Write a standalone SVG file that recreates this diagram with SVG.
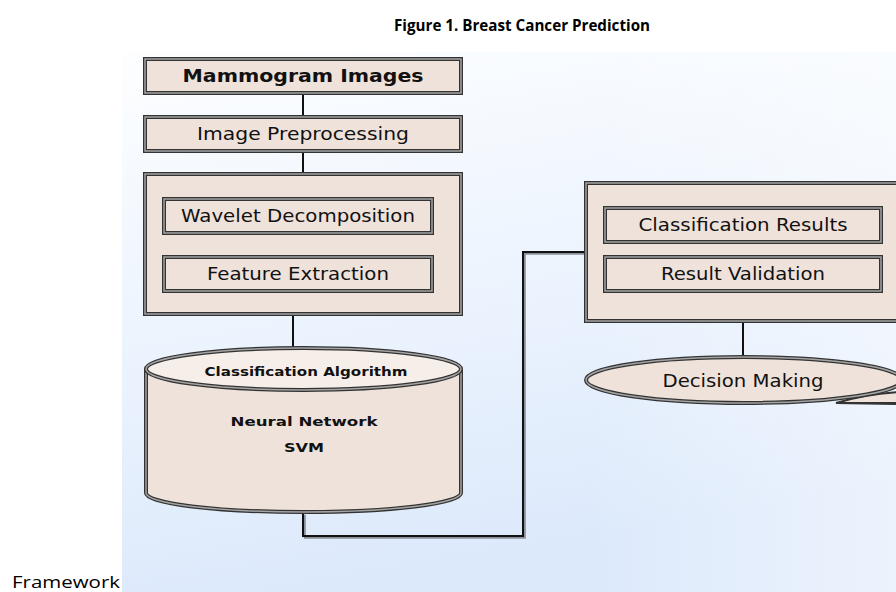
<svg xmlns="http://www.w3.org/2000/svg" width="896" height="592" viewBox="0 0 896 592">
  <defs>
    <linearGradient id="panelFill" x1="0" y1="0" x2="0.25" y2="1">
      <stop offset="0" stop-color="#fdfeff"/>
      <stop offset="0.45" stop-color="#eef5fe"/>
      <stop offset="1" stop-color="#dce9fb"/>
    </linearGradient>
    <linearGradient id="panelSheen" x1="0" y1="0" x2="1" y2="0">
      <stop offset="0" stop-color="#ffffff" stop-opacity="0"/>
      <stop offset="0.6" stop-color="#ffffff" stop-opacity="0"/>
      <stop offset="1" stop-color="#ffffff" stop-opacity="0.45"/>
    </linearGradient>
    <clipPath id="page">
      <rect x="0" y="0" width="896" height="592"/>
    </clipPath>
  </defs>
  <style>
    .title { font-family: "Open Sans", "Liberation Sans", Arial, sans-serif; font-weight: bold; font-size: 16px; fill: #000; }
    .caption { font-family: "Open Sans", "Liberation Sans", Arial, sans-serif; font-size: 17px; fill: #000; }
    .lbl { font-family: "DejaVu Sans", Verdana, sans-serif; font-size: 17px; fill: #111; }
    .lblb { font-family: "DejaVu Sans", Verdana, sans-serif; font-size: 17px; font-weight: bold; fill: #111; }
    .small { font-family: "DejaVu Sans", Verdana, sans-serif; font-size: 13px; font-weight: bold; fill: #111; }
    .box { fill: #efe2da; stroke: #333; stroke-width: 4; }
    .boxin { fill: none; stroke: #a4a4a4; stroke-width: 1.5; }
    .wire { fill: none; stroke: #111; stroke-width: 2; }
    .wireshade { fill: none; stroke: #8a8f99; stroke-width: 2; }
  </style>

  <!-- page background and shaded drawing panel -->
  <rect x="0" y="0" width="896" height="592" fill="#ffffff"/>
  <rect x="122" y="52" width="774" height="540" fill="url(#panelFill)"/>
  <rect x="122" y="52" width="774" height="540" fill="url(#panelSheen)"/>

  <text class="title" x="522" y="31" text-anchor="middle" textLength="256" lengthAdjust="spacingAndGlyphs">Figure 1. Breast Cancer Prediction</text>
  <text class="caption" x="12" y="588" textLength="108" lengthAdjust="spacingAndGlyphs">Framework</text>

  <!-- connectors -->
  <g id="connectors">
    <line class="wire" x1="303" y1="94" x2="303" y2="116"/>
    <line class="wire" x1="303" y1="152" x2="303" y2="173"/>
    <line class="wire" x1="293" y1="315" x2="293" y2="350"/>
    <polyline class="wireshade" points="304,514 304,537 524,537 524,253 586,253" transform="translate(0.8,0.8)"/>
    <polyline class="wire" points="303,512 303,536 523,536 523,252 586,252"/>
    <line class="wire" x1="743" y1="322" x2="743" y2="357"/>
  </g>

  <g id="mammogram-images">
    <rect class="box" x="145" y="59" width="316" height="34"/>
    <rect class="boxin" x="145" y="59" width="316" height="34"/>
    <text class="lblb" x="303" y="82" text-anchor="middle" textLength="241" lengthAdjust="spacingAndGlyphs">Mammogram Images</text>
  </g>

  <g id="image-preprocessing">
    <rect class="box" x="145" y="117" width="316" height="34"/>
    <rect class="boxin" x="145" y="117" width="316" height="34"/>
    <text class="lbl" x="303" y="140" text-anchor="middle" textLength="212" lengthAdjust="spacingAndGlyphs">Image Preprocessing</text>
  </g>

  <g id="feature-stage">
    <rect class="box" x="145" y="174" width="316" height="140"/>
    <rect class="boxin" x="145" y="174" width="316" height="140"/>
    <g id="wavelet-decomposition">
      <rect class="box" x="164" y="199" width="268" height="34"/>
      <rect class="boxin" x="164" y="199" width="268" height="34"/>
      <text class="lbl" x="298" y="222" text-anchor="middle" textLength="234" lengthAdjust="spacingAndGlyphs">Wavelet Decomposition</text>
    </g>
    <g id="feature-extraction">
      <rect class="box" x="164" y="257" width="268" height="34"/>
      <rect class="boxin" x="164" y="257" width="268" height="34"/>
      <text class="lbl" x="298" y="280" text-anchor="middle" textLength="182" lengthAdjust="spacingAndGlyphs">Feature Extraction</text>
    </g>
  </g>

  <g id="classification-algorithm">
    <path d="M146,369 L146,493 A157.5,19 0 0 0 461,493 L461,369" fill="#efe2da" stroke="#333" stroke-width="4"/>
    <path d="M146,369 L146,493 A157.5,19 0 0 0 461,493 L461,369" fill="none" stroke="#a4a4a4" stroke-width="1.5"/>
    <ellipse cx="303.5" cy="369" rx="157.5" ry="21" fill="#f6eee9" stroke="#333" stroke-width="4"/>
    <ellipse cx="303.5" cy="369" rx="157.5" ry="21" fill="none" stroke="#a4a4a4" stroke-width="1.5"/>
    <text class="small" x="306" y="376" text-anchor="middle" textLength="203" lengthAdjust="spacingAndGlyphs">Classification Algorithm</text>
    <text class="small" x="304" y="426" text-anchor="middle" font-size="14" textLength="147" lengthAdjust="spacingAndGlyphs">Neural Network</text>
    <text class="small" x="304" y="452" text-anchor="middle" font-size="14" textLength="40" lengthAdjust="spacingAndGlyphs">SVM</text>
  </g>

  <g id="result-stage" clip-path="url(#page)">
    <rect class="box" x="586" y="183" width="330" height="138"/>
    <rect class="boxin" x="586" y="183" width="330" height="138"/>
    <g id="classification-results">
      <rect class="box" x="605" y="208" width="276" height="34"/>
      <rect class="boxin" x="605" y="208" width="276" height="34"/>
      <text class="lbl" x="743" y="231" text-anchor="middle" textLength="209" lengthAdjust="spacingAndGlyphs">Classification Results</text>
    </g>
    <g id="result-validation">
      <rect class="box" x="605" y="257" width="276" height="34"/>
      <rect class="boxin" x="605" y="257" width="276" height="34"/>
      <text class="lbl" x="743" y="280" text-anchor="middle" textLength="164" lengthAdjust="spacingAndGlyphs">Result Validation</text>
    </g>
  </g>

  <g id="decision-making" clip-path="url(#page)">
    <path d="M836,403 Q866,394 900,392 L900,404 Z" fill="#efe2da" stroke="#333" stroke-width="2"/>
    <line x1="836" y1="403" x2="900" y2="403" stroke="#333" stroke-width="2"/>
    <ellipse cx="744" cy="380" rx="158" ry="23" fill="#efe2da" stroke="#333" stroke-width="4"/>
    <ellipse cx="744" cy="380" rx="158" ry="23" fill="none" stroke="#a4a4a4" stroke-width="1.5"/>
    <text class="lbl" x="743" y="387" text-anchor="middle" textLength="161" lengthAdjust="spacingAndGlyphs">Decision Making</text>
  </g>
</svg>
